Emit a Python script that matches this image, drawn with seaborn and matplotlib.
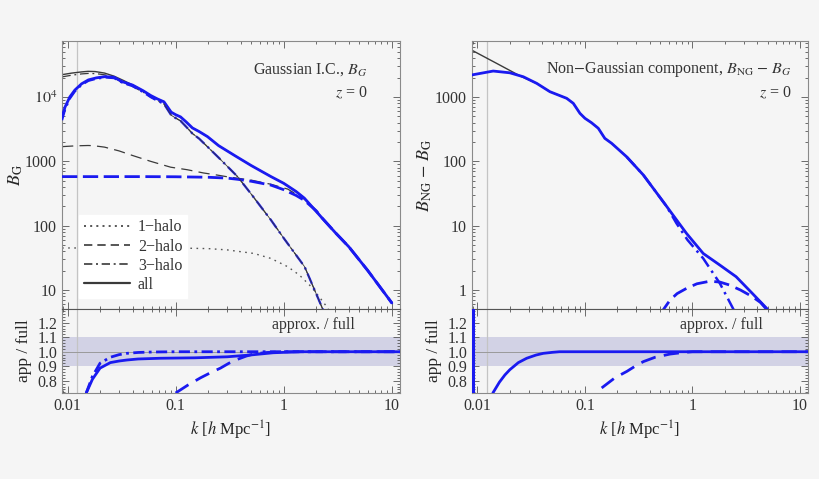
import numpy as np
import seaborn as sns
import matplotlib.pyplot as plt
from matplotlib.lines import Line2D
from matplotlib.ticker import FixedLocator, FixedFormatter, LogLocator, NullFormatter, MultipleLocator

# ---- data ------------------------------------------------------------------
# left panel: Gaussian I.C., B_G  (black = full, blue = approx.)
k_all_full_g = [0.0089, 0.011, 0.0135, 0.0155, 0.018, 0.022, 0.027, 0.033, 0.04, 0.05, 0.059, 0.068,
                0.078, 0.091, 0.1, 0.111, 0.125, 0.143, 0.165, 0.197, 0.25, 0.36, 0.5, 0.76, 1.0, 1.3,
                1.55, 2.25, 3.0, 4.0, 6.0, 10.0]
b_all_full_g = [22200, 23500, 24500, 25000, 24800, 23500, 21000, 18000, 15300, 12500, 10500, 9300,
                8400, 5800, 5300, 4900, 4100, 3300, 2900, 2420, 1750, 1200, 860, 580, 455, 340,
                268, 133, 78, 47, 20, 6.3]

k_all_app_g = [0.0089, 0.0095, 0.0105, 0.0117, 0.0135, 0.0156, 0.0185, 0.0223, 0.027, 0.032, 0.04,
               0.05, 0.059, 0.068, 0.078, 0.091, 0.1, 0.111, 0.125, 0.143, 0.165, 0.197, 0.25, 0.36,
               0.5, 0.76, 1.0, 1.3, 1.55, 2.25, 3.0, 4.0, 6.0, 10.0]
b_all_app_g = [4950, 7000, 10000, 12800, 16000, 18400, 19800, 20700, 20200, 17300, 15300,
               12500, 10500, 9300, 8400, 5800, 5300, 4900, 4100, 3300, 2900, 2420, 1750, 1200,
               860, 580, 455, 340, 268, 133, 78, 47, 20, 6.3]

k_3h_app_g = [0.0089, 0.0095, 0.0105, 0.0117, 0.0135, 0.0156, 0.0185, 0.0223, 0.027, 0.032, 0.04,
              0.05, 0.059, 0.068, 0.078, 0.091, 0.1, 0.111, 0.125, 0.143, 0.165, 0.183, 0.25, 0.375,
              0.5, 0.76, 1.0, 1.56, 2.0, 2.3, 2.6]
b_3h_app_g = [4350, 6400, 9400, 12200, 15400, 17800, 19200, 20100, 19600, 16700, 14700,
              11900, 9900, 8700, 7800, 5200, 4700, 4250, 3450, 2700, 2250, 1900, 1140, 575,
              310, 123, 64, 23, 8.7, 5.0, 3.0]

k_3h_full_g = [0.0089, 0.011, 0.0135, 0.0156, 0.0185, 0.0223, 0.027, 0.032, 0.04, 0.05, 0.059, 0.068,
               0.078, 0.091, 0.1, 0.111, 0.125, 0.143, 0.165, 0.183, 0.25, 0.375, 0.5, 0.76, 1.0,
               1.56, 2.0, 2.3, 2.6]
b_3h_full_g = [20500, 21800, 22800, 23200, 23000, 22000, 19800, 16800, 14500, 11900, 9900, 8700,
               7800, 5200, 4700, 4250, 3450, 2700, 2250, 1900, 1140, 575, 310, 123, 64,
               23, 8.7, 5.0, 3.0]

k_2h_full_g = [0.0089, 0.012, 0.0155, 0.0173, 0.022, 0.03, 0.04, 0.0586, 0.09, 0.128, 0.18, 0.244,
               0.3, 0.5, 0.76, 1.09, 1.55, 2.0, 2.25, 3.0, 4.0, 6.0, 10.0]
b_2h_full_g = [1690, 1740, 1760, 1750, 1660, 1450, 1230, 1000, 810, 740, 660, 610,
               575, 510, 440, 370, 258, 172, 133, 78, 47, 20, 6.3]

k_2h_app_g = [0.0089, 0.05, 0.1, 0.2, 0.3, 0.375, 0.5, 0.76, 1.0, 1.3, 1.55, 2.0, 2.25, 3.0, 4.0,
              6.0, 10.0]
b_2h_app_g = [578, 578, 575, 565, 548, 525, 490, 427, 362, 295, 248, 170, 133, 78, 47,
              20, 6.3]

k_1h_g = [0.0089, 0.05, 0.1, 0.2, 0.3, 0.53, 0.76, 1.09, 1.4, 1.8, 2.2, 2.5, 2.8]
b_1h_g = [45, 45, 45, 44, 42, 37, 31, 23, 17, 11.2, 7.3, 5.5, 4.0]

# left ratio panel (approx. / full)
k_rat_all_g = [0.0149, 0.017, 0.02, 0.0249, 0.03, 0.0355, 0.045, 0.072, 0.15, 0.3, 0.5, 0.8, 1.45, 12]
r_rat_all_g = [0.715, 0.81, 0.887, 0.925, 0.936, 0.943, 0.95, 0.955, 0.958, 0.965, 0.978, 0.993, 1.0, 1.0]
k_rat_3h_g = [0.0149, 0.017, 0.02, 0.0249, 0.03, 0.0355, 0.045, 0.06, 0.1, 12]
r_rat_3h_g = [0.715, 0.83, 0.921, 0.962, 0.98, 0.989, 0.995, 0.998, 1.0, 1.0]
k_rat_2h_g = [0.1, 0.13, 0.17, 0.21, 0.26, 0.31, 0.36, 0.45, 0.53, 0.7, 1.0, 12]
r_rat_2h_g = [0.715, 0.77, 0.82, 0.855, 0.887, 0.92, 0.943, 0.97, 0.985, 0.995, 1.0, 1.0]

# right panel: non-Gaussian component, B_NG - B_G
k_all_app_ng = [0.0088, 0.014, 0.02, 0.0267, 0.0356, 0.0472, 0.0676, 0.0779, 0.0898, 0.1, 0.115,
                0.133, 0.153, 0.177, 0.244, 0.349, 0.575, 0.766, 0.88, 1.26, 1.8, 2.55, 3.6, 4.9, 5.4]
b_all_app_ng = [2200, 2535, 2380, 2065, 1630, 1210, 955, 798, 558, 467, 399,
                327, 228, 191, 118, 61.5, 20, 10.4, 7.6, 3.7, 2.44, 1.61, 0.89, 0.52, 0.42]
k_all_full_ng = [0.0088, 0.015, 0.0257, 0.0356, 0.0472, 0.0676, 0.0779, 0.0898, 0.1, 0.115,
                 0.133, 0.153, 0.177, 0.244, 0.349, 0.575, 0.766, 0.88, 1.26, 1.8, 2.55, 3.6, 4.9, 5.4]
b_all_full_ng = [5380, 3350, 2070, 1630, 1210, 955, 798, 558, 467, 399,
                 327, 228, 191, 118, 61.5, 20, 10.4, 7.6, 3.7, 2.44, 1.61, 0.89, 0.52, 0.42]
k_3h_ng = [0.244, 0.349, 0.575, 0.71, 0.9, 1.26, 1.8, 2.4, 2.7]
b_3h_ng = [118, 61.5, 20, 10.9, 6.0, 3.1, 1.27, 0.507, 0.33]
k_2h_ng = [0.5, 0.62, 0.72, 0.88, 1.1, 1.45, 1.8, 2.2, 2.8, 3.6, 4.3, 4.9, 5.3]
b_2h_ng = [0.42, 0.7, 0.88, 1.06, 1.25, 1.37, 1.33, 1.2, 1.0, 0.79, 0.64, 0.5, 0.42]

# right ratio panel
k_rat_all_ng = [0.0139, 0.016, 0.018, 0.02, 0.024, 0.0287, 0.035, 0.041, 0.05, 0.058, 12]
r_rat_all_ng = [0.715, 0.79, 0.84, 0.876, 0.925, 0.955, 0.977, 0.989, 0.996, 1.0, 1.0]
k_rat_2h_ng = [0.143, 0.19, 0.245, 0.3, 0.35, 0.45, 0.62, 0.8, 1.0, 12]
r_rat_2h_ng = [0.75, 0.82, 0.864, 0.905, 0.932, 0.962, 0.984, 0.994, 1.0, 1.0]
k_rat_edge_ng = [0.00905, 0.00905]
r_rat_edge_ng = [0.6, 1.4]

k_box = 0.0123  # thin vertical marker line

# ---- style ------------------------------------------------------------------
BG = '#f5f5f5'
BLUE = '#1a1af0'
DARK = '#3a3a3a'
sns.set_theme(style='ticks')
plt.rcParams['font.family'] = ['Liberation Serif', 'DejaVu Serif']
plt.rcParams['mathtext.fontset'] = 'stix'
plt.rcParams['font.size'] = 11
plt.rcParams['text.color'] = '#333333'

fig = plt.figure(figsize=(8.2, 4.79), dpi=100, facecolor=BG)


def line(ax, k, v, color, lw, ls, z):
    sns.lineplot(x=k, y=v, ax=ax, color=color, linewidth=lw, linestyle=ls,
                 estimator=None, sort=False, zorder=z)


def frame(ax, ylog=True):
    ax.set_facecolor(BG)
    ax.set_xscale('log')
    if ylog:
        ax.set_yscale('log')
    ax.set_xlim(0.00889, 11.9)
    for s in ax.spines.values():
        s.set_color('#8a8a8a')
        s.set_linewidth(0.8)
    ax.tick_params(which='both', direction='in', top=True, right=True, colors='#555555',
                   labelcolor='#333333', labelsize=11.5, width=0.6)
    ax.tick_params(which='major', length=5)
    ax.tick_params(which='minor', length=2.5)
    ax.xaxis.set_major_locator(FixedLocator([0.01, 0.1, 1, 10]))
    ax.xaxis.set_minor_locator(LogLocator(base=10, subs=np.arange(2, 10)))
    ax.xaxis.set_minor_formatter(NullFormatter())
    ax.axvline(k_box, color='#c4c4c4', lw=0.9, zorder=1)


def ratio(ax, label_x):
    frame(ax, ylog=False)
    ax.set_ylim(0.715, 1.295)
    ax.axhspan(0.9, 1.1, color='#d2d2e5', zorder=0, lw=0)
    ax.axhline(1.0, color='#9a9a9a', lw=0.7, zorder=1)
    ax.yaxis.set_major_locator(FixedLocator([0.8, 0.9, 1.0, 1.1, 1.2]))
    ax.yaxis.set_major_formatter(FixedFormatter(['0.8', '0.9', '1.0', '1.1', '1.2']))
    ax.yaxis.set_minor_locator(MultipleLocator(0.02))
    ax.xaxis.set_major_formatter(FixedFormatter(['0.01', '0.1', '1', '10']))
    ax.spines['top'].set_color('#555555')
    ax.set_ylabel('app / full', fontsize=12.5)
    ax.yaxis.set_label_coords(label_x, 0.5)
    ax.set_xlabel(r'$k$ [$h$ Mpc$^{-1}$]', fontsize=12)
    ax.xaxis.set_label_coords(0.5, -0.31)
    ax.text(0.866, 0.81, 'approx. / full', transform=ax.transAxes, ha='right', va='center', fontsize=11.5)


# ---- left panel ---------------------------------------------------------------
axL = fig.add_axes([0.0756, 0.3549, 0.4122, 0.5595])
frame(axL)
axL.set_ylim(5.07, 7.4e4)
axL.yaxis.set_major_locator(FixedLocator([10, 100, 1000, 1e4]))
axL.yaxis.set_major_formatter(FixedFormatter(['10', '100', '1000', r'$10^4$']))
axL.yaxis.set_minor_locator(LogLocator(base=10, subs=np.arange(2, 10)))
axL.yaxis.set_minor_formatter(NullFormatter())
axL.tick_params(axis='x', labelbottom=False)

line(axL, k_all_full_g, b_all_full_g, DARK, 1.0, '-', 2)
line(axL, k_3h_full_g, b_3h_full_g, DARK, 0.9, (0, (7, 3, 1.5, 3)), 2)
line(axL, k_2h_full_g, b_2h_full_g, DARK, 0.9, (0, (9, 5)), 2)
line(axL, k_1h_g, b_1h_g, '#555555', 1.0, (0, (1.2, 3.2)), 2)
line(axL, k_all_app_g, b_all_app_g, BLUE, 2.0, '-', 3)
line(axL, k_3h_app_g, b_3h_app_g, BLUE, 1.6, (0, (5, 2, 1, 2)), 3)
line(axL, k_2h_app_g, b_2h_app_g, BLUE, 2.0, (0, (5.5, 2)), 3)
line(axL, k_3h_full_g[12:], b_3h_full_g[12:], DARK, 0.6, '-', 4)

axL.set_ylabel(r'$B_{\rm G}$', fontsize=13)
axL.yaxis.set_label_coords(-0.11, 0.5)
axL.text(0.905, 0.892, r'Gaussian I.C., $B_G$', transform=axL.transAxes, ha='right', va='center', fontsize=11.5)
axL.text(0.905, 0.806, r'$z$ = 0', transform=axL.transAxes, ha='right', va='center', fontsize=11.5)

handles = [Line2D([], [], color=DARK, lw=1.2, ls=(0, (1.2, 2.5))),
           Line2D([], [], color=DARK, lw=1.2, ls=(0, (5, 3))),
           Line2D([], [], color=DARK, lw=1.2, ls=(0, (5, 2.2, 1.2, 2.2))),
           Line2D([], [], color=DARK, lw=1.6, ls='-')]
leg = axL.legend(handles, ['1\u2212halo', '2\u2212halo', '3\u2212halo', 'all'], loc='upper left',
                 bbox_to_anchor=(0.05, 0.352), borderaxespad=0, frameon=True, fancybox=False,
                 handlelength=2.9, handletextpad=0.5, labelspacing=0.2, borderpad=0.3, fontsize=11.5)
leg.get_frame().set_facecolor('white')
leg.get_frame().set_edgecolor('white')
leg.get_frame().set_alpha(1)
leg.set_zorder(5)

axLr = fig.add_axes([0.0756, 0.1795, 0.4122, 0.1754])
ratio(axLr, -0.088)
line(axLr, k_rat_all_g, r_rat_all_g, BLUE, 2.0, '-', 3)
line(axLr, k_rat_3h_g, r_rat_3h_g, BLUE, 2.0, (0, (4, 1.6, 1, 1.6)), 3)
line(axLr, k_rat_2h_g, r_rat_2h_g, BLUE, 2.0, (0, (5.5, 3)), 3)

# ---- right panel --------------------------------------------------------------
axR = fig.add_axes([0.5756, 0.3549, 0.4098, 0.5595])
frame(axR)
axR.set_ylim(0.507, 7430)
axR.yaxis.set_major_locator(FixedLocator([1, 10, 100, 1000]))
axR.yaxis.set_major_formatter(FixedFormatter(['1', '10', '100', '1000']))
axR.yaxis.set_minor_locator(LogLocator(base=10, subs=np.arange(2, 10)))
axR.yaxis.set_minor_formatter(NullFormatter())
axR.tick_params(axis='x', labelbottom=False)

line(axR, k_all_full_ng, b_all_full_ng, DARK, 1.0, '-', 2)
line(axR, k_all_app_ng, b_all_app_ng, BLUE, 2.0, '-', 3)
line(axR, k_3h_ng, b_3h_ng, BLUE, 1.8, (0, (5, 2, 1, 2)), 3)
line(axR, k_2h_ng, b_2h_ng, BLUE, 2.0, (0, (5.5, 2.5)), 3)

axR.set_ylabel(r'$B_{\rm NG}$ $-$ $B_{\rm G}$', fontsize=13)
axR.yaxis.set_label_coords(-0.113, 0.5)
axR.text(0.951, 0.892, r'Non$-$Gaussian component, $B_{\rm NG}$ $-$ $B_G$', transform=axR.transAxes,
         ha='right', va='center', fontsize=11.5)
axR.text(0.951, 0.806, r'$z$ = 0', transform=axR.transAxes, ha='right', va='center', fontsize=11.5)

axRr = fig.add_axes([0.5756, 0.1795, 0.4098, 0.1754])
ratio(axRr, -0.089)
line(axRr, k_rat_all_ng, r_rat_all_ng, BLUE, 2.0, '-', 3)
line(axRr, k_rat_2h_ng, r_rat_2h_ng, BLUE, 2.0, (0, (5.5, 3)), 3)
line(axRr, k_rat_edge_ng, r_rat_edge_ng, BLUE, 2.2, '-', 3)

fig.savefig('out.png', dpi=100, facecolor=BG)
plt.close(fig)
